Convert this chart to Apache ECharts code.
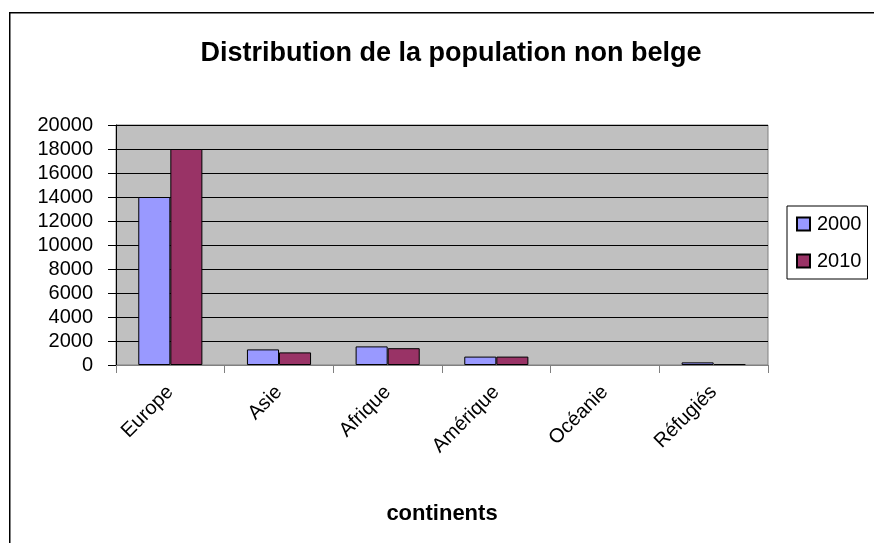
<!DOCTYPE html>
<html>
<head>
<meta charset="utf-8">
<script src="https://cdn.jsdelivr.net/npm/echarts@6/dist/echarts.min.js"></script>
<style>
html,body{margin:0;padding:0;background:#fff;}
#c{width:874px;height:543px;}
</style>
</head>
<body>
<div id="c"></div>
<script>
const categories = ['Europe', 'Asie', 'Afrique', 'Amérique', 'Océanie', 'Réfugiés'];
const series2000 = [14000, 1300, 1550, 700, null, 220];
const series2010 = [18000, 1050, 1400, 700, null, 80];
const yTicks = [0, 2000, 4000, 6000, 8000, 10000, 12000, 14000, 16000, 18000, 20000];

const F = 'Liberation Sans, Arial, sans-serif';
const chart = echarts.init(document.getElementById('c'));
chart.setOption({
  animation: false,
  textStyle: { fontFamily: F },
  graphic: [{
    type: 'rect', left: 9, top: 12, z: -10,
    shape: { x: 0, y: 0, width: 900, height: 560 },
    style: { fill: '#fff', stroke: '#000', lineWidth: 1.5 }
  }],
  title: {
    text: 'Distribution de la population non belge',
    left: 446, top: 35, textAlign: 'center',
    textStyle: { fontFamily: F, fontSize: 27, fontWeight: 'bold', color: '#000' }
  },
  legend: {
    orient: 'vertical',
    left: 787, top: 206,
    icon: 'rect',
    itemWidth: 13, itemHeight: 13, itemGap: 17,
    padding: [8, 6, 8, 9],
    borderColor: '#000', borderWidth: 1,
    textStyle: { fontFamily: F, fontSize: 20, color: '#000', padding: [0, 0, 0, 2] },
    data: ['2000', '2010']
  },
  grid: {
    left: 116, right: 106, top: 125, bottom: 178,
    show: true, backgroundColor: '#C0C0C0', borderColor: '#808080', borderWidth: 1
  },
  xAxis: {
    type: 'category',
    data: categories,
    name: 'continents',
    nameLocation: 'middle',
    nameGap: 138,
    nameTextStyle: { fontFamily: F, fontSize: 22, fontWeight: 'bold', color: '#000' },
    axisLine: { lineStyle: { color: '#808080', width: 1 } },
    axisTick: { show: true, length: 8, lineStyle: { color: '#808080' } },
    axisLabel: { rotate: 45, fontFamily: F, fontSize: 20, color: '#000', margin: 24, interval: 0 }
  },
  yAxis: {
    type: 'value',
    min: yTicks[0], max: yTicks[yTicks.length - 1], interval: 2000,
    axisLine: { show: true, lineStyle: { color: '#000', width: 1 } },
    axisTick: { show: true, length: 8, lineStyle: { color: '#000' } },
    axisLabel: { fontFamily: F, fontSize: 20, color: '#000', margin: 23, formatter: v => String(v) },
    splitLine: { lineStyle: { color: '#000', width: 1 } }
  },
  series: [
    {
      name: '2000', type: 'bar', data: series2000,
      barGap: '0%', barCategoryGap: '41%',
      itemStyle: { color: '#9999FF', borderColor: '#000', borderWidth: 1 }
    },
    {
      name: '2010', type: 'bar', data: series2010,
      itemStyle: { color: '#993366', borderColor: '#000', borderWidth: 1 }
    }
  ]
});
</script>
</body>
</html>
